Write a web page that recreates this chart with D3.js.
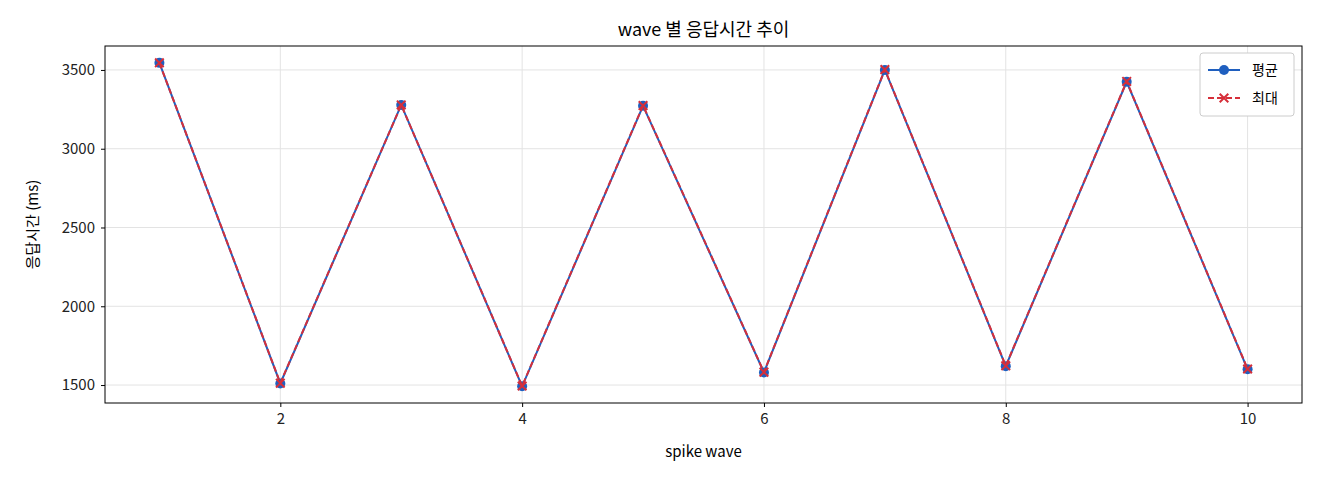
<!DOCTYPE html>
<html><head><meta charset="utf-8">
<script src="https://cdn.jsdelivr.net/npm/d3@7"></script>
<style>body{margin:0;background:#fff}text{font-family:"Noto Sans CJK KR","Noto Sans",sans-serif}</style>
</head><body><svg id="c" width="1320" height="480"></svg>
<script>
var waves = [1, 2, 3, 4, 5, 6, 7, 8, 9, 10];
var avgMs = [3545, 1510, 3278, 1492, 3272, 1580, 3500, 1620, 3425, 1600];
var maxMs = [3545, 1512, 3278, 1494, 3274, 1582, 3502, 1622, 3427, 1602];
var xTicks = [2, 4, 6, 8, 10];
var yTicks = [1500, 2000, 2500, 3000, 3500];

var svg = d3.select('#c');
var L = 105, R = 1302, T = 46, B = 403;
var x = d3.scaleLinear().domain([0.55, 10.45]).range([L, R]);
var y = d3.scaleLinear().domain([1386, 3652]).range([B, T]);

var g = svg.append('g');
g.selectAll('.gx').data(xTicks).enter().append('line')
  .attr('x1', d => x(d)).attr('x2', d => x(d)).attr('y1', T).attr('y2', B)
  .attr('stroke', '#e3e3e3');
g.selectAll('.gy').data(yTicks).enter().append('line')
  .attr('y1', d => y(d)).attr('y2', d => y(d)).attr('x1', L).attr('x2', R)
  .attr('stroke', '#e3e3e3');

function styleAxis(a) {
  a.select('.domain').remove();
  a.selectAll('line').attr('stroke', '#000');
  a.selectAll('text').attr('font-size', 15).attr('fill', '#222');
}
svg.append('g').attr('transform', 'translate(0,' + B + ')')
  .call(d3.axisBottom(x).tickValues(xTicks).tickFormat(d3.format('d')).tickSize(4).tickPadding(6))
  .call(styleAxis);
svg.append('g').attr('transform', 'translate(' + L + ',0)')
  .call(d3.axisLeft(y).tickValues(yTicks).tickFormat(d3.format('d')).tickSize(4).tickPadding(6))
  .call(styleAxis);

svg.append('rect').attr('x', L).attr('y', T).attr('width', R - L).attr('height', B - T)
  .attr('fill', 'none').attr('stroke', '#000');

var line = d3.line().x((d, i) => x(waves[i])).y(d => y(d));
svg.append('path').datum(avgMs).attr('d', line).attr('fill', 'none')
  .attr('stroke', '#1f5fbf').attr('stroke-width', 2);
svg.selectAll('.pa').data(avgMs).enter().append('circle')
  .attr('cx', (d, i) => x(waves[i])).attr('cy', d => y(d)).attr('r', 5).attr('fill', '#1f5fbf');
svg.append('path').datum(maxMs).attr('d', line).attr('fill', 'none')
  .attr('stroke', '#d62f3a').attr('stroke-width', 2).attr('stroke-dasharray', '6,3');
var cross = d3.symbol().type(d3.symbolX).size(50);
svg.selectAll('.pm').data(maxMs).enter().append('path')
  .attr('d', cross).attr('transform', (d, i) => 'translate(' + x(waves[i]) + ',' + y(d) + ')')
  .attr('stroke', '#d62f3a').attr('stroke-width', 2).attr('fill', 'none');

svg.append('text').attr('x', (L + R) / 2).attr('y', 36).attr('text-anchor', 'middle')
  .attr('font-size', 18).text('wave 별 응답시간 추이');
svg.append('text').attr('x', (L + R) / 2).attr('y', 457).attr('text-anchor', 'middle')
  .attr('font-size', 15).text('spike wave');
svg.append('text').attr('transform', 'translate(38,' + (T + B) / 2 + ') rotate(-90)')
  .attr('text-anchor', 'middle').attr('font-size', 15).text('응답시간 (ms)');

var lg = svg.append('g').attr('transform', 'translate(1200,53)');
lg.append('rect').attr('width', 94).attr('height', 63).attr('rx', 3)
  .attr('fill', '#fff').attr('stroke', '#ccc');
lg.append('line').attr('x1', 8).attr('x2', 40).attr('y1', 17).attr('y2', 17)
  .attr('stroke', '#1f5fbf').attr('stroke-width', 2);
lg.append('circle').attr('cx', 24).attr('cy', 17).attr('r', 5).attr('fill', '#1f5fbf');
lg.append('text').attr('x', 52).attr('y', 22).attr('font-size', 14).text('평균');
lg.append('line').attr('x1', 8).attr('x2', 40).attr('y1', 45).attr('y2', 45)
  .attr('stroke', '#d62f3a').attr('stroke-width', 2).attr('stroke-dasharray', '6,3');
lg.append('path').attr('d', cross).attr('transform', 'translate(24,45)')
  .attr('stroke', '#d62f3a').attr('stroke-width', 2).attr('fill', 'none');
lg.append('text').attr('x', 52).attr('y', 50).attr('font-size', 14).text('최대');
</script></body></html>
